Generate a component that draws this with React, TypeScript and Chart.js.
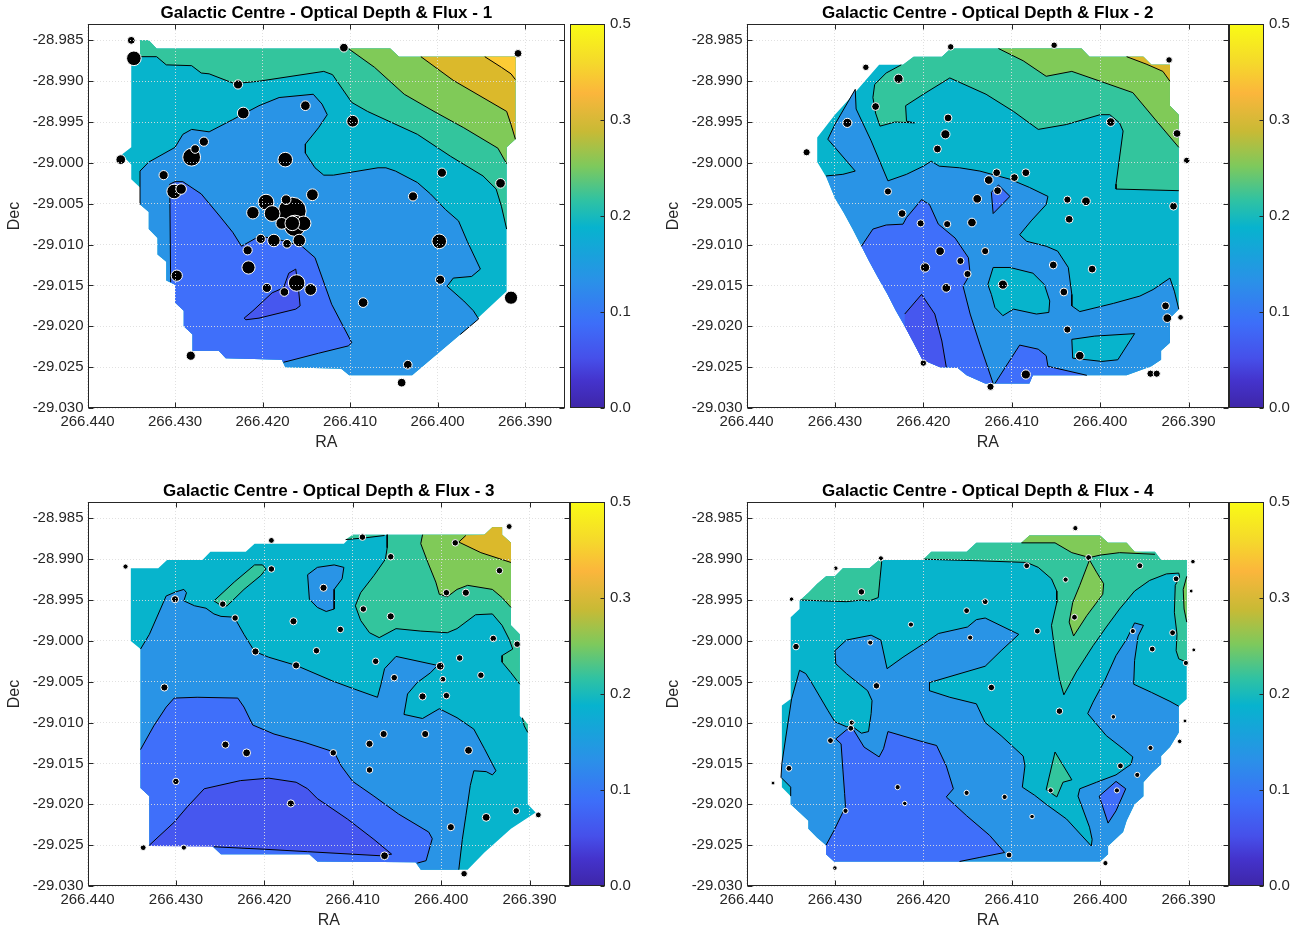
import React, { useEffect, useRef } from 'react';
import { Chart, registerables } from 'chart.js';

Chart.register(...registerables);
Chart.defaults.font.family = '"Liberation Sans", Arial, Helvetica, sans-serif';

type Pt = [number, number];
type Src = [number, number, number];

// ---------- axes ----------
const raTicks = [266.44, 266.43, 266.42, 266.41, 266.4, 266.39];
const decTicks = [-28.985, -28.99, -28.995, -29.0, -29.005, -29.01, -29.015, -29.02, -29.025, -29.03];
const cbTickLabels = ['0.0', '0.1', '0.2', '0.3', '0.5'];
const RA_MIN = 266.38542;
const RA_MAX = 266.44;
const DEC_MIN = -29.03;
const DEC_MAX = -28.983;
const titles = [
  'Galactic Centre - Optical Depth & Flux - 1',
  'Galactic Centre - Optical Depth & Flux - 2',
  'Galactic Centre - Optical Depth & Flux - 3',
  'Galactic Centre - Optical Depth & Flux - 4',
];

// ---------- colours ----------
const CYAN = '#07B4CC';
const BLUE = '#2994E6';
const ROYAL = '#3F6FFA';
const PURPLE = '#4657EF';
const TEAL = '#33C59D';
const GREEN = '#80CA58';
const GOLD = '#DBB92B';
const YELLOW = '#FDCB35';
const GRID = 'rgba(222,222,222,0.9)';
const AXIS = '#262626';
const parulaStops: [number, string][] = [
  [0.0, '#3E26A8'], [0.07, '#4433CC'], [0.13, '#4650EA'], [0.22, '#3D6EF9'], [0.33, '#2A91E8'],
  [0.47, '#07B3CE'], [0.54, '#2FC2A3'], [0.63, '#7EC95C'], [0.72, '#C8BA35'], [0.82, '#FBB63C'],
  [0.9, '#F5D92B'], [1.0, '#F9FB15'],
];

// ---------- panel 1 ----------
const p1Outer: Pt[] = [[266.4340,-28.9850],[266.4330,-28.9850],[266.4321,-28.9860],[266.4054,-28.9860],[266.4044,-28.9870],[266.3911,-28.9870],[266.3911,-28.9971],[266.3921,-28.9981],[266.3921,-29.0157],[266.3974,-29.0210],[266.4029,-29.0260],[266.4101,-29.0260],[266.4110,-29.0252],[266.4174,-29.0250],[266.4178,-29.0241],[266.4242,-29.0239],[266.4250,-29.0230],[266.4280,-29.0230],[266.4280,-29.0210],[266.4290,-29.0200],[266.4290,-29.0181],[266.4300,-29.0171],[266.4300,-29.0149],[266.4310,-29.0144],[266.4310,-29.0121],[266.4320,-29.0112],[266.4320,-29.0092],[266.4330,-29.0081],[266.4330,-29.0060],[266.4340,-29.0051],[266.4340,-29.0030],[266.4350,-29.0020],[266.4350,-29.0002],[266.4361,-28.9990],[266.4350,-28.9981],[266.4350,-28.9870],[266.4340,-28.9870]];
const p1TealLine: Pt[] = [[266.4350,-28.9870],[266.4321,-28.9870],[266.4310,-28.9880],[266.4281,-28.9881],[266.4270,-28.9890],[266.4261,-28.9891],[266.4232,-28.9903],[266.4204,-28.9900],[266.4130,-28.9888],[266.4120,-28.9892],[266.4098,-28.9926],[266.4080,-28.9937],[266.4023,-28.9965],[266.3985,-28.9992],[266.3948,-29.0016],[266.3933,-29.0032],[266.3927,-29.0053],[266.3921,-29.0081]];
const p1TealClose: Pt[] = [[266.3921,-28.9981],[266.3911,-28.9971],[266.3911,-28.9870],[266.4044,-28.9870],[266.4054,-28.9860],[266.4321,-28.9860],[266.4330,-28.9850],[266.4340,-28.9850],[266.4340,-28.9870]];
const p1GreenLine: Pt[] = [[266.4102,-28.9860],[266.4072,-28.9883],[266.4038,-28.9916],[266.4004,-28.9937],[266.3970,-28.9957],[266.3931,-28.9982],[266.3921,-29.0001]];
const p1GreenClose: Pt[] = [[266.3921,-28.9981],[266.3911,-28.9971],[266.3911,-28.9870],[266.4044,-28.9870],[266.4054,-28.9860]];
const p1GoldLine: Pt[] = [[266.4019,-28.9870],[266.3982,-28.9899],[266.3921,-28.9937],[266.3916,-28.9953],[266.3911,-28.9971]];
const p1GoldClose: Pt[] = [[266.3911,-28.9870]];
const p1YellowLine: Pt[] = [[266.3946,-28.9870],[266.3927,-28.9883],[266.3916,-28.9891],[266.3911,-28.9898]];
const p1YellowClose: Pt[] = [[266.3911,-28.9870]];
const p1BlueLine: Pt[] = [[266.4340,-29.0051],[266.4340,-29.0010],[266.4330,-28.9999],[266.4300,-28.9981],[266.4291,-28.9965],[266.4281,-28.9959],[266.4261,-28.9962],[266.4234,-28.9947],[266.4204,-28.9930],[266.4181,-28.9920],[266.4142,-28.9916],[266.4132,-28.9928],[266.4126,-28.9941],[266.4136,-28.9957],[266.4151,-28.9977],[266.4151,-28.9988],[266.4140,-29.0006],[266.4130,-29.0015],[266.4119,-29.0015],[266.4068,-29.0006],[266.4059,-29.0006],[266.4048,-29.0010],[266.4023,-29.0024],[266.4008,-29.0038],[266.3991,-29.0057],[266.3976,-29.0071],[266.3966,-29.0096],[266.3951,-29.0130],[266.3961,-29.0139],[266.3982,-29.0141],[266.3989,-29.0151],[266.3970,-29.0169],[266.3959,-29.0181],[266.3953,-29.0191],[266.3974,-29.0210]];
const p1BlueClose: Pt[] = [[266.4029,-29.0260],[266.4101,-29.0260],[266.4110,-29.0252],[266.4174,-29.0250],[266.4178,-29.0241],[266.4242,-29.0239],[266.4250,-29.0230],[266.4280,-29.0230],[266.4280,-29.0210],[266.4290,-29.0200],[266.4290,-29.0181],[266.4300,-29.0171],[266.4300,-29.0149],[266.4310,-29.0144],[266.4310,-29.0121],[266.4320,-29.0112],[266.4320,-29.0092],[266.4330,-29.0081],[266.4330,-29.0060]];
const p1RoyalLine: Pt[] = [[266.4305,-29.0146],[266.4306,-29.0026],[266.4300,-29.0023],[266.4291,-29.0023],[266.4270,-29.0038],[266.4249,-29.0065],[266.4234,-29.0085],[266.4224,-29.0102],[266.4204,-29.0090],[266.4189,-29.0092],[266.4174,-29.0096],[266.4155,-29.0102],[266.4140,-29.0116],[266.4121,-29.0173],[266.4098,-29.0220],[266.4102,-29.0224],[266.4136,-29.0233],[266.4172,-29.0243],[266.4176,-29.0244]];
const p1RoyalClose: Pt[] = [[266.4178,-29.0241],[266.4242,-29.0239],[266.4250,-29.0230],[266.4280,-29.0230],[266.4280,-29.0210],[266.4290,-29.0200],[266.4290,-29.0181],[266.4300,-29.0171],[266.4300,-29.0149]];
const p1PurpleLoop: Pt[] = [[266.4221,-29.0190],[266.4211,-29.0181],[266.4189,-29.0159],[266.4176,-29.0153],[266.4170,-29.0135],[266.4162,-29.0130],[266.4159,-29.0153],[266.4157,-29.0175],[266.4162,-29.0179],[266.4204,-29.0190],[266.4219,-29.0192],[266.4221,-29.0190]];
// [RA, Dec, flux]
const p1Sources: Src[] = [[266.4166,-29.0059,177],[266.4163,-29.0077,100],[266.4350,-28.9850,11],[266.4347,-28.9872,45],[266.4362,-28.9996,18],[266.4313,-29.0015,16],[266.4301,-29.0035,45],[266.4293,-29.0032,22],[266.4281,-28.9993,69],[266.4277,-28.9983,14],[266.4267,-28.9974,16],[266.4228,-28.9904,16],[266.4222,-28.9939,28],[266.4151,-28.9930,18],[266.4107,-28.9859,14],[266.4097,-28.9949,28],[266.4174,-28.9996,45],[266.4143,-29.0039,28],[266.4211,-29.0061,32],[266.4196,-29.0048,53],[266.4189,-29.0062,53],[266.4173,-29.0045,18],[266.4178,-29.0074,28],[266.4153,-29.0074,45],[266.4166,-29.0074,45],[266.4187,-29.0095,32],[266.4172,-29.0099,14],[266.4158,-29.0095,32],[266.4202,-29.0093,16],[266.4217,-29.0107,16],[266.4216,-29.0128,36],[266.4298,-29.0138,25],[266.4195,-29.0153,16],[266.4175,-29.0158,14],[266.4161,-29.0147,59],[266.4145,-29.0155,28],[266.4282,-29.0236,16],[266.4085,-29.0171,18],[266.4034,-29.0247,14],[266.4041,-29.0269,14],[266.3998,-29.0096,45],[266.3997,-29.0143,16],[266.4028,-29.0041,16],[266.3995,-29.0012,16],[266.3928,-29.0025,18],[266.3916,-29.0165,36],[266.3908,-28.9866,11]];

// ---------- panel 2 ----------
const p2Outer: Pt[] = [[266.4250,-28.9880],[266.4223,-28.9880],[266.4211,-28.9870],[266.4179,-28.9870],[266.4169,-28.9860],[266.4021,-28.9860],[266.4012,-28.9870],[266.3951,-28.9870],[266.3942,-28.9880],[266.3921,-28.9880],[266.3921,-28.9930],[266.3911,-28.9941],[266.3911,-29.0179],[266.3921,-29.0190],[266.3921,-29.0220],[266.3931,-29.0230],[266.3931,-29.0241],[266.3942,-29.0249],[266.3970,-29.0260],[266.4076,-29.0260],[266.4080,-29.0270],[266.4130,-29.0270],[266.4151,-29.0260],[266.4161,-29.0251],[266.4181,-29.0250],[266.4201,-29.0241],[266.4211,-29.0220],[266.4221,-29.0200],[266.4231,-29.0181],[266.4241,-29.0160],[266.4251,-29.0141],[266.4261,-29.0121],[266.4270,-29.0102],[266.4280,-29.0081],[266.4290,-29.0061],[266.4300,-29.0043],[266.4310,-29.0017],[266.4320,-28.9999],[266.4320,-28.9969],[266.4300,-28.9941],[266.4279,-28.9916]];
const p2TopClose: Pt[] = [[266.3911,-28.9941],[266.3921,-28.9930],[266.3921,-28.9880],[266.3942,-28.9880],[266.3951,-28.9870],[266.4012,-28.9870],[266.4021,-28.9860]];
const p2TealLine: Pt[] = [[266.4225,-28.9880],[266.4242,-28.9890],[266.4255,-28.9904],[266.4257,-28.9920],[266.4254,-28.9939],[266.4249,-28.9955],[266.4232,-28.9950],[266.4210,-28.9951],[266.4219,-28.9949],[266.4220,-28.9930],[266.4200,-28.9916],[266.4170,-28.9896],[266.4129,-28.9916],[266.4098,-28.9937],[266.4070,-28.9959],[266.4038,-28.9953],[266.4000,-28.9941],[266.3989,-28.9941],[266.3978,-28.9951],[266.3974,-28.9961],[266.3982,-29.0026],[266.3982,-29.0032],[266.3911,-29.0034]];
const p2TealClose: Pt[] = [...p2TopClose, [266.4169,-28.9860],[266.4179,-28.9870],[266.4211,-28.9870],[266.4223,-28.9880]];
const p2GreenLine: Pt[] = [[266.4115,-28.9860],[266.4087,-28.9875],[266.4061,-28.9894],[266.4032,-28.9888],[266.4000,-28.9900],[266.3963,-28.9914],[266.3936,-28.9949],[266.3911,-28.9981]];
const p2GoldLine: Pt[] = [[266.3970,-28.9870],[266.3948,-28.9879],[266.3929,-28.9888],[266.3921,-28.9900]];
const p2GoldClose: Pt[] = [[266.3921,-28.9880],[266.3942,-28.9880],[266.3951,-28.9870]];
const p2BlueLine: Pt[] = [[266.4310,-29.0016],[266.4291,-29.0014],[266.4277,-29.0010],[266.4308,-28.9971],[266.4300,-28.9953],[266.4277,-28.9910],[266.4276,-28.9934],[266.4259,-28.9973],[266.4240,-29.0022],[266.4219,-29.0014],[266.4200,-29.0004],[266.4191,-28.9998],[266.4182,-29.0004],[266.4159,-29.0006],[266.4136,-29.0010],[266.4102,-29.0020],[266.4080,-29.0030],[266.4059,-29.0041],[266.4061,-29.0051],[266.4078,-29.0071],[266.4091,-29.0088],[266.4083,-29.0096],[266.4061,-29.0102],[266.4048,-29.0108],[266.4036,-29.0128],[266.4032,-29.0161],[266.4032,-29.0175],[266.4023,-29.0182],[266.3985,-29.0172],[266.3955,-29.0163],[266.3940,-29.0155],[266.3921,-29.0141],[266.3916,-29.0157],[266.3911,-29.0179]];
const p2BlueClose: Pt[] = [[266.3921,-29.0190],[266.3921,-29.0220],[266.3931,-29.0230],[266.3931,-29.0241],[266.3942,-29.0249],[266.3970,-29.0260],[266.4076,-29.0260],[266.4080,-29.0270],[266.4130,-29.0270],[266.4151,-29.0260],[266.4161,-29.0251],[266.4181,-29.0250],[266.4201,-29.0241],[266.4211,-29.0220],[266.4221,-29.0200],[266.4231,-29.0181],[266.4241,-29.0160],[266.4251,-29.0141],[266.4261,-29.0121],[266.4270,-29.0102],[266.4280,-29.0081],[266.4290,-29.0061],[266.4300,-29.0043]];
const p2RoyalLineA: Pt[] = [[266.4270,-29.0102],[266.4257,-29.0081],[266.4242,-29.0076],[266.4223,-29.0075],[266.4219,-29.0067],[266.4202,-29.0045],[266.4193,-29.0051],[266.4183,-29.0075],[266.4164,-29.0092],[266.4149,-29.0116],[266.4147,-29.0136],[266.4155,-29.0151],[266.4147,-29.0185],[266.4136,-29.0222],[266.4121,-29.0270]];
const p2RoyalCloseA: Pt[] = [[266.4130,-29.0270],[266.4151,-29.0260],[266.4161,-29.0251],[266.4181,-29.0250],[266.4201,-29.0241],[266.4211,-29.0220],[266.4221,-29.0200],[266.4231,-29.0181],[266.4241,-29.0160],[266.4251,-29.0141],[266.4261,-29.0121]];
const p2RoyalLineB: Pt[] = [[266.4119,-29.0270],[266.4091,-29.0223],[266.4070,-29.0228],[266.4061,-29.0236],[266.4059,-29.0249],[266.4015,-29.0260]];
const p2RoyalCloseB: Pt[] = [[266.4076,-29.0260],[266.4080,-29.0270]];
const p2RoyalIsland: Pt[] = [[266.4123,-29.0036],[266.4115,-29.0027],[266.4102,-29.0041],[266.4121,-29.0062],[266.4123,-29.0036]];
const p2PurpleLine: Pt[] = [[266.4221,-29.0185],[266.4202,-29.0161],[266.4187,-29.0185],[266.4179,-29.0218],[266.4174,-29.0250]];
const p2PurpleClose: Pt[] = [[266.4181,-29.0250],[266.4201,-29.0241],[266.4211,-29.0220],[266.4221,-29.0200]];
const p2CyanIslandA: Pt[] = [[266.4127,-29.0149],[266.4121,-29.0128],[266.4102,-29.0128],[266.4076,-29.0135],[266.4063,-29.0149],[266.4057,-29.0169],[266.4058,-29.0183],[266.4072,-29.0185],[266.4098,-29.0179],[266.4110,-29.0187],[266.4119,-29.0177],[266.4123,-29.0161],[266.4127,-29.0149]];
const p2CyanIslandB: Pt[] = [[266.4032,-29.0216],[266.4006,-29.0212],[266.3961,-29.0209],[266.3980,-29.0241],[266.3998,-29.0243],[266.4031,-29.0239],[266.4032,-29.0216]];
const p2Sources: Src[] = [[266.4169,-28.9858,7],[266.4052,-28.9856,7],[266.4265,-28.9883,7],[266.4228,-28.9897,16],[266.4254,-28.9931,11],[266.4286,-28.9951,16],[266.4332,-28.9987,9],[266.4172,-28.9945,11],[266.4175,-28.9965,16],[266.4184,-28.9983,11],[266.3988,-28.9950,14],[266.3922,-28.9874,7],[266.3913,-28.9964,11],[266.3902,-28.9997,7],[266.4117,-29.0012,11],[266.4084,-29.0012,11],[266.4126,-29.0021,14],[266.4097,-29.0018,11],[266.4116,-29.0034,11],[266.4139,-29.0044,14],[266.4037,-29.0045,9],[266.4016,-29.0047,14],[266.4035,-29.0069,11],[266.3917,-29.0053,11],[266.4240,-29.0035,9],[266.4224,-29.0062,11],[266.4203,-29.0074,9],[266.4173,-29.0075,9],[266.4145,-29.0073,14],[266.4130,-29.0108,9],[266.4181,-29.0108,14],[266.4158,-29.0120,9],[266.4150,-29.0136,9],[266.4198,-29.0128,16],[266.4174,-29.0153,14],[266.4110,-29.0149,16],[266.4053,-29.0125,11],[266.4009,-29.0130,11],[266.4041,-29.0158,11],[266.3926,-29.0175,11],[266.3924,-29.0190,14],[266.3909,-29.0189,5],[266.4037,-29.0204,9],[266.4023,-29.0236,14],[266.4084,-29.0259,16],[266.4124,-29.0274,9],[266.4200,-29.0245,7],[266.3943,-29.0258,9],[266.3936,-29.0258,9]];

// ---------- panel 3 ----------
const p3Outer: Pt[] = [[266.4351,-28.9911],[266.4320,-28.9911],[266.4310,-28.9901],[266.4270,-28.9901],[266.4261,-28.9891],[266.4221,-28.9891],[266.4211,-28.9881],[266.4110,-28.9881],[266.4100,-28.9870],[266.3951,-28.9870],[266.3942,-28.9861],[266.3931,-28.9861],[266.3931,-28.9870],[266.3921,-28.9880],[266.3921,-28.9981],[266.3911,-28.9992],[266.3911,-29.0092],[266.3902,-29.0102],[266.3902,-29.0200],[266.3893,-29.0210],[266.3921,-29.0230],[266.3951,-29.0259],[266.3970,-29.0280],[266.4023,-29.0280],[266.4029,-29.0271],[266.4140,-29.0270],[266.4149,-29.0261],[266.4249,-29.0261],[266.4259,-29.0251],[266.4330,-29.0251],[266.4330,-29.0190],[266.4340,-29.0180],[266.4340,-29.0010],[266.4351,-29.0000]];
const p3BlueLine: Pt[] = [[266.4340,-29.0010],[266.4330,-28.9992],[266.4311,-28.9945],[266.4300,-28.9940],[266.4291,-28.9937],[266.4288,-28.9941],[266.4291,-28.9951],[266.4279,-28.9957],[266.4266,-28.9960],[266.4257,-28.9967],[266.4249,-28.9970],[266.4234,-28.9971],[266.4223,-28.9992],[266.4211,-29.0013],[266.4195,-29.0020],[266.4164,-29.0030],[266.4123,-29.0049],[266.4098,-29.0059],[266.4072,-29.0069],[266.4068,-29.0053],[266.4064,-29.0034],[266.4051,-29.0019],[266.4004,-29.0030],[266.4012,-29.0039],[266.4027,-29.0051],[266.4038,-29.0065],[266.4042,-29.0090],[266.4021,-29.0095],[266.4002,-29.0083],[266.3982,-29.0094],[266.3963,-29.0108],[266.3951,-29.0132],[266.3938,-29.0159],[266.3942,-29.0164],[266.3949,-29.0160],[266.3963,-29.0159],[266.3967,-29.0177],[266.3972,-29.0214],[266.3976,-29.0243],[266.3980,-29.0280]];
const p3BlueClose: Pt[] = [[266.4023,-29.0280],[266.4029,-29.0271],[266.4140,-29.0270],[266.4149,-29.0261],[266.4249,-29.0261],[266.4259,-29.0251],[266.4330,-29.0251],[266.4330,-29.0190],[266.4340,-29.0180]];
const p3BlueIsland: Pt[] = [[266.4151,-28.9919],[266.4140,-28.9910],[266.4121,-28.9907],[266.4110,-28.9910],[266.4112,-28.9924],[266.4121,-28.9937],[266.4121,-28.9961],[266.4130,-28.9964],[266.4140,-28.9959],[266.4149,-28.9949],[266.4151,-28.9919]];
const p3TealLine: Pt[] = [[266.4061,-28.9870],[266.4061,-28.9886],[266.4063,-28.9900],[266.4076,-28.9920],[266.4091,-28.9941],[266.4097,-28.9957],[266.4091,-28.9975],[266.4081,-28.9990],[266.4070,-28.9996],[266.4051,-28.9985],[266.4023,-28.9988],[266.3993,-28.9990],[266.3982,-28.9985],[266.3961,-28.9968],[266.3942,-28.9967],[266.3931,-28.9981],[266.3923,-28.9998],[266.3919,-29.0010],[266.3931,-29.0018],[266.3931,-29.0026],[266.3921,-29.0039],[266.3911,-29.0053]];
const p3TopRightClose: Pt[] = [[266.3921,-28.9880],[266.3931,-28.9870],[266.3931,-28.9861],[266.3942,-28.9861],[266.3951,-28.9870]];
const p3TealClose: Pt[] = [[266.3911,-28.9992],[266.3921,-28.9981], ...p3TopRightClose];
const p3TealRightLine: Pt[] = [[266.3908,-29.0094],[266.3906,-29.0104],[266.3902,-29.0112]];
const p3TealRightClose: Pt[] = [[266.3902,-29.0102]];
const p3TealIsland: Pt[] = [[266.4257,-28.9951],[266.4234,-28.9928],[266.4211,-28.9907],[266.4202,-28.9907],[266.4198,-28.9912],[266.4204,-28.9920],[266.4223,-28.9937],[266.4242,-28.9957],[266.4247,-28.9958],[266.4257,-28.9951]];
const p3TealTopLine: Pt[] = [[266.4108,-28.9876],[266.4087,-28.9874],[266.4064,-28.9871]];
const p3TealTopClose: Pt[] = [[266.4064,-28.9870],[266.4100,-28.9870]];
const p3GreenLine: Pt[] = [[266.4021,-28.9870],[266.4023,-28.9881],[266.4015,-28.9904],[266.4006,-28.9928],[266.4002,-28.9943],[266.3993,-28.9946],[266.3982,-28.9937],[266.3970,-28.9932],[266.3942,-28.9937],[266.3931,-28.9947],[266.3921,-28.9959]];
const p3GoldLine: Pt[] = [[266.3972,-28.9871],[266.3980,-28.9879],[266.3955,-28.9892],[266.3921,-28.9904]];
const p3RoyalLine: Pt[] = [[266.4340,-29.0133],[266.4325,-29.0104],[266.4311,-29.0081],[266.4302,-29.0070],[266.4276,-29.0069],[266.4230,-29.0070],[266.4223,-29.0081],[266.4213,-29.0103],[266.4189,-29.0114],[266.4155,-29.0124],[266.4121,-29.0136],[266.4113,-29.0153],[266.4100,-29.0172],[266.4076,-29.0190],[266.4048,-29.0212],[266.4014,-29.0234],[266.4010,-29.0242],[266.4017,-29.0269],[266.4027,-29.0272]];
const p3RoyalClose: Pt[] = [[266.4029,-29.0271],[266.4140,-29.0270],[266.4149,-29.0261],[266.4249,-29.0261],[266.4259,-29.0251],[266.4330,-29.0251],[266.4330,-29.0190],[266.4340,-29.0180]];
const p3PurpleLine: Pt[] = [[266.4330,-29.0250],[266.4302,-29.0222],[266.4287,-29.0203],[266.4268,-29.0181],[266.4227,-29.0171],[266.4195,-29.0168],[266.4164,-29.0173],[266.4151,-29.0181],[266.4140,-29.0193],[266.4106,-29.0218],[266.4076,-29.0243],[266.4056,-29.0261],[266.4068,-29.0263],[266.4151,-29.0258],[266.4200,-29.0255],[266.4257,-29.0252]];
const p3PurpleClose: Pt[] = [[266.4330,-29.0251]];
const p3Sources: Src[] = [[266.3923,-28.9860,5.4],[266.4192,-28.9877,5.4],[266.4357,-28.9909,4],[266.4089,-28.9873,7.1],[266.3984,-28.9880,7.1],[266.4057,-28.9897,7.1],[266.4192,-28.9912,7.1],[266.3934,-28.9914,7.1],[266.3994,-28.9941,7.1],[266.3972,-28.9941,9],[266.4301,-28.9949,9],[266.4247,-28.9955,7.1],[266.4133,-28.9935,9],[266.4233,-28.9972,7.1],[266.4088,-28.9961,7.1],[266.4057,-28.9970,9],[266.4167,-28.9976,9],[266.4114,-28.9986,7.1],[266.3941,-28.9997,7.1],[266.3914,-29.0004,7.1],[266.4210,-29.0013,9],[266.4141,-29.0012,7.1],[266.4164,-29.0030,9],[266.4074,-29.0025,7.1],[266.3979,-29.0021,7.1],[266.4001,-29.0031,11.1],[266.4053,-29.0045,7.1],[266.3998,-29.0047,5.4],[266.3955,-29.0042,7.1],[266.4313,-29.0057,9],[266.4021,-29.0068,9],[266.3994,-29.0067,7.1],[266.4065,-29.0114,9],[266.4018,-29.0114,9],[266.4081,-29.0126,9],[266.4244,-29.0127,9],[266.4220,-29.0137,11.1],[266.4122,-29.0137,7.1],[266.3969,-29.0134,11.1],[266.4081,-29.0158,7.1],[266.4300,-29.0172,7.1],[266.4170,-29.0199,9],[266.3915,-29.0208,7.1],[266.3890,-29.0213,5.4],[266.3949,-29.0216,11.1],[266.3989,-29.0228,9],[266.4337,-29.0253,5.4],[266.4291,-29.0253,4],[266.4064,-29.0263,11.1],[266.3974,-29.0285,7.1]];

// ---------- panel 4 ----------
const p4Outer: Pt[] = [[266.4080,-28.9871],[266.4000,-28.9871],[266.3991,-28.9880],[266.3970,-28.9880],[266.3961,-28.9891],[266.3938,-28.9891],[266.3931,-28.9901],[266.3902,-28.9901],[266.3902,-29.0071],[266.3911,-29.0080],[266.3911,-29.0112],[266.3921,-29.0130],[266.3931,-29.0141],[266.3931,-29.0151],[266.3941,-29.0161],[266.3951,-29.0173],[266.3951,-29.0190],[266.3961,-29.0200],[266.3970,-29.0220],[266.3974,-29.0234],[266.3991,-29.0251],[266.3991,-29.0261],[266.4000,-29.0270],[266.4301,-29.0270],[266.4310,-29.0261],[266.4310,-29.0250],[266.4320,-29.0241],[266.4330,-29.0230],[266.4330,-29.0220],[266.4350,-29.0200],[266.4350,-29.0190],[266.4360,-29.0179],[266.4360,-29.0079],[266.4350,-29.0071],[266.4350,-28.9971],[266.4340,-28.9961],[266.4340,-28.9951],[266.4330,-28.9941],[266.4320,-28.9930],[266.4310,-28.9921],[266.4300,-28.9921],[266.4291,-28.9911],[266.4261,-28.9911],[266.4250,-28.9901],[266.4200,-28.9901],[266.4191,-28.9891],[266.4151,-28.9891],[266.4140,-28.9880],[266.4089,-28.9880]];
const p4TealALine: Pt[] = [[266.4339,-28.9950],[266.4313,-28.9951],[266.4287,-28.9952],[266.4270,-28.9950],[266.4261,-28.9951],[266.4251,-28.9947],[266.4249,-28.9924],[266.4247,-28.9902]];
const p4TealAClose: Pt[] = [[266.4250,-28.9901],[266.4261,-28.9911],[266.4291,-28.9911],[266.4300,-28.9921],[266.4310,-28.9921],[266.4320,-28.9930],[266.4330,-28.9941],[266.4340,-28.9951]];
const p4TealBLine: Pt[] = [[266.4200,-28.9900],[266.4136,-28.9902],[266.4083,-28.9904],[266.4070,-28.9910],[266.4055,-28.9924],[266.4049,-28.9939],[266.4049,-28.9953],[266.4055,-28.9981],[266.4051,-29.0014],[266.4046,-29.0047],[266.4041,-29.0066],[266.4027,-29.0038],[266.4008,-29.0006],[266.3993,-28.9983],[266.3978,-28.9961],[266.3961,-28.9939],[266.3944,-28.9926],[266.3925,-28.9918],[266.3911,-28.9917],[266.3910,-28.9922],[266.3915,-28.9932],[266.3916,-28.9965],[266.3913,-28.9992],[266.3914,-29.0012],[266.3911,-29.0022],[266.3902,-29.0026]];
const p4TealBClose: Pt[] = [[266.3902,-28.9901],[266.3931,-28.9901],[266.3938,-28.9891],[266.3961,-28.9891],[266.3970,-28.9880],[266.3991,-28.9880],[266.4000,-28.9871],[266.4080,-28.9871],[266.4089,-28.9880],[266.4140,-28.9880],[266.4151,-28.9891],[266.4191,-28.9891]];
const p4GreenALine: Pt[] = [[266.4089,-28.9880],[266.4051,-28.9880],[266.4032,-28.9892],[266.4012,-28.9898],[266.4000,-28.9895],[266.3978,-28.9892],[266.3938,-28.9894]];
const p4GreenAClose: Pt[] = [[266.3961,-28.9891],[266.3970,-28.9880],[266.3991,-28.9880],[266.4000,-28.9871],[266.4080,-28.9871]];
const p4GreenIsland: Pt[] = [[266.4012,-28.9901],[266.4004,-28.9916],[266.3996,-28.9930],[266.3997,-28.9943],[266.4015,-28.9969],[266.4030,-28.9994],[266.4035,-28.9977],[266.4031,-28.9953],[266.4023,-28.9932],[266.4012,-28.9901]];
const p4GreenEdgeLine: Pt[] = [[266.3902,-28.9921],[266.3906,-28.9937],[266.3905,-28.9961],[266.3902,-28.9977]];
const p4BlueLine: Pt[] = [[266.4350,-29.0190],[266.4350,-29.0179],[266.4361,-29.0167],[266.4360,-29.0150],[266.4349,-29.0071],[266.4340,-29.0036],[266.4333,-29.0040],[266.4327,-29.0050],[266.4308,-29.0085],[266.4300,-29.0099],[266.4287,-29.0105],[266.4280,-29.0105],[266.4270,-29.0113],[266.4262,-29.0111],[266.4259,-29.0089],[266.4258,-29.0073],[266.4263,-29.0061],[266.4287,-29.0040],[266.4299,-29.0028],[266.4300,-29.0012],[266.4287,-28.9999],[266.4259,-28.9993],[266.4248,-28.9999],[266.4241,-29.0034],[266.4223,-29.0020],[266.4199,-29.0003],[266.4183,-28.9991],[266.4150,-28.9983],[266.4140,-28.9974],[266.4130,-28.9972],[266.4092,-28.9992],[266.4112,-29.0012],[266.4130,-29.0031],[266.4193,-29.0051],[266.4193,-29.0061],[266.4170,-29.0069],[266.4140,-29.0077],[266.4130,-29.0100],[266.4112,-29.0116],[266.4087,-29.0141],[266.4085,-29.0153],[266.4088,-29.0179],[266.4074,-29.0189],[266.4061,-29.0200],[266.4038,-29.0218],[266.4010,-29.0251],[266.4009,-29.0243],[266.4012,-29.0228],[266.4025,-29.0190],[266.4023,-29.0181],[266.4004,-29.0173],[266.3982,-29.0164],[266.3965,-29.0151],[266.3963,-29.0142],[266.3974,-29.0132],[266.3993,-29.0116],[266.4014,-29.0089],[266.4008,-29.0075],[266.3995,-29.0049],[266.3982,-29.0018],[266.3970,-28.9998],[266.3961,-28.9978],[266.3951,-28.9981],[266.3957,-28.9994],[266.3961,-29.0024],[266.3962,-29.0053],[266.3942,-29.0063],[266.3921,-29.0074],[266.3911,-29.0080]];
const p4BlueClose: Pt[] = [[266.3911,-29.0112],[266.3921,-29.0130],[266.3931,-29.0141],[266.3931,-29.0151],[266.3941,-29.0161],[266.3951,-29.0173],[266.3951,-29.0190],[266.3961,-29.0200],[266.3970,-29.0220],[266.3974,-29.0234],[266.3991,-29.0251],[266.3991,-29.0261],[266.4000,-29.0270],[266.4301,-29.0270],[266.4310,-29.0261],[266.4310,-29.0250],[266.4320,-29.0241],[266.4330,-29.0230],[266.4330,-29.0220],[266.4350,-29.0200]];
const p4RoyalLine: Pt[] = [[266.4310,-29.0250],[266.4301,-29.0232],[266.4288,-29.0203],[266.4289,-29.0187],[266.4291,-29.0157],[266.4293,-29.0126],[266.4299,-29.0120],[266.4287,-29.0109],[266.4280,-29.0107],[266.4267,-29.0130],[266.4250,-29.0142],[266.4245,-29.0132],[266.4240,-29.0111],[266.4199,-29.0124],[266.4185,-29.0128],[266.4174,-29.0153],[266.4166,-29.0181],[266.4174,-29.0191],[266.4151,-29.0214],[266.4125,-29.0238],[266.4108,-29.0259],[266.4136,-29.0265],[266.4159,-29.0270]];
const p4RoyalClose: Pt[] = [[266.4301,-29.0270],[266.4310,-29.0261]];
const p4RoyalIsland: Pt[] = [[266.4001,-29.0190],[266.3982,-29.0172],[266.3971,-29.0181],[266.3982,-29.0208],[266.3991,-29.0223],[266.4001,-29.0190]];
const p4TealIsland: Pt[] = [[266.4051,-29.0136],[266.4032,-29.0170],[266.4042,-29.0173],[266.4049,-29.0191],[266.4061,-29.0182],[266.4051,-29.0136]];
const p4Sources: Src[] = [[266.4028,-28.9862,4],[266.4248,-28.9899,4],[266.4299,-28.9911,2.8],[266.4349,-28.9949,2.8],[266.4270,-28.9940,7.1],[266.4083,-28.9908,5.4],[266.4013,-28.9898,5.4],[266.3955,-28.9908,5.4],[266.4039,-28.9925,4],[266.3914,-28.9924,5.4],[266.3895,-28.9903,2.8],[266.3897,-28.9939,1.8],[266.4130,-28.9952,5.4],[266.4151,-28.9963,5.4],[266.4214,-28.9980,4],[266.4071,-28.9988,5.4],[266.4029,-28.9971,5.4],[266.3963,-28.9988,4],[266.3918,-28.9990,5.4],[266.3894,-29.0011,1.8],[266.3941,-29.0010,5.4],[266.3903,-29.0027,4],[266.4344,-29.0007,7.1],[266.4260,-29.0002,4],[266.4147,-28.9996,4],[266.4253,-29.0055,7.1],[266.4123,-29.0057,7.1],[266.4046,-29.0086,7.1],[266.3985,-29.0093,2.8],[266.3904,-29.0098,1.8],[266.4281,-29.0100,4],[266.4282,-29.0107,5.4],[266.4305,-29.0122,5.4],[266.3910,-29.0123,2.8],[266.3943,-29.0131,4],[266.4352,-29.0156,5.4],[266.3977,-29.0153,5.4],[266.3958,-29.0164,4],[266.4370,-29.0174,1.8],[266.4229,-29.0179,4],[266.4151,-29.0186,4],[266.4108,-29.0191,4],[266.4056,-29.0183,4],[266.3981,-29.0183,4],[266.4288,-29.0208,4],[266.4221,-29.0199,2.8],[266.4077,-29.0215,2.8],[266.4103,-29.0262,5.4],[266.3994,-29.0272,4],[266.4300,-29.0278,2.8]];

// ---------- panel specs ----------
type Region = { color: string; line: Pt[]; close: Pt[] };
type PanelSpec = { title: string; regions: Region[]; sources: Src[] };
const R = (color: string, line: Pt[], close: Pt[] = []): Region => ({ color, line, close });

const panels: PanelSpec[] = [
  {
    title: titles[0],
    regions: [
      R(CYAN, [], p1Outer),
      R(TEAL, p1TealLine, p1TealClose),
      R(GREEN, p1GreenLine, p1GreenClose),
      R(GOLD, p1GoldLine, p1GoldClose),
      R(YELLOW, p1YellowLine, p1YellowClose),
      R(BLUE, p1BlueLine, p1BlueClose),
      R(ROYAL, p1RoyalLine, p1RoyalClose),
      R(PURPLE, p1PurpleLoop),
    ],
    sources: p1Sources,
  },
  {
    title: titles[1],
    regions: [
      R(CYAN, [], p2Outer),
      R(TEAL, p2TealLine, p2TealClose),
      R(GREEN, p2GreenLine, p2TopClose),
      R(GOLD, p2GoldLine, p2GoldClose),
      R(BLUE, p2BlueLine, p2BlueClose),
      R(ROYAL, p2RoyalLineA, p2RoyalCloseA),
      R(ROYAL, p2RoyalLineB, p2RoyalCloseB),
      R(ROYAL, p2RoyalIsland),
      R(PURPLE, p2PurpleLine, p2PurpleClose),
      R(CYAN, p2CyanIslandA),
      R(CYAN, p2CyanIslandB),
    ],
    sources: p2Sources,
  },
  {
    title: titles[2],
    regions: [
      R(CYAN, [], p3Outer),
      R(BLUE, p3BlueLine, p3BlueClose),
      R(BLUE, p3BlueIsland),
      R(TEAL, p3TealLine, p3TealClose),
      R(TEAL, p3TealRightLine, p3TealRightClose),
      R(TEAL, p3TealIsland),
      R(TEAL, p3TealTopLine, p3TealTopClose),
      R(GREEN, p3GreenLine, p3TopRightClose),
      R(GOLD, p3GoldLine, p3TopRightClose),
      R(ROYAL, p3RoyalLine, p3RoyalClose),
      R(PURPLE, p3PurpleLine, p3PurpleClose),
    ],
    sources: p3Sources,
  },
  {
    title: titles[3],
    regions: [
      R(CYAN, [], p4Outer),
      R(TEAL, p4TealALine, p4TealAClose),
      R(TEAL, p4TealBLine, p4TealBClose),
      R(GREEN, p4GreenALine, p4GreenAClose),
      R(GREEN, p4GreenIsland),
      R(GREEN, p4GreenEdgeLine),
      R(BLUE, p4BlueLine, p4BlueClose),
      R(ROYAL, p4RoyalLine, p4RoyalClose),
      R(ROYAL, p4RoyalIsland),
      R(TEAL, p4TealIsland),
    ],
    sources: p4Sources,
  },
];

// ---------- plugins ----------
const boxPlugin = {
  id: 'axesBox',
  afterDraw(chart: any) {
    const { ctx, chartArea: a, scales } = chart;
    ctx.save();
    ctx.strokeStyle = AXIS;
    ctx.lineWidth = 1;
    const L = Math.round(a.left) + 0.5, T = Math.round(a.top) + 0.5;
    const Rr = Math.round(a.right) - 0.5, B = Math.round(a.bottom) - 0.5;
    ctx.strokeRect(L, T, Rr - L, B - T);
    ctx.beginPath();
    for (const t of scales.x.ticks) {
      const px = Math.round(scales.x.getPixelForValue(t.value)) + 0.5;
      ctx.moveTo(px, B); ctx.lineTo(px, B - 5);
      ctx.moveTo(px, T); ctx.lineTo(px, T + 5);
    }
    for (const t of scales.y.ticks) {
      const py = Math.round(scales.y.getPixelForValue(t.value)) + 0.5;
      ctx.moveTo(L, py); ctx.lineTo(L + 5, py);
      ctx.moveTo(Rr, py); ctx.lineTo(Rr - 5, py);
    }
    ctx.stroke();
    ctx.restore();
  },
};

const cbBoxPlugin = {
  id: 'cbBox',
  afterDraw(chart: any) {
    const { ctx, chartArea: a, scales } = chart;
    ctx.save();
    ctx.strokeStyle = AXIS;
    ctx.lineWidth = 1;
    const L = Math.round(a.left) + 0.5, T = Math.round(a.top) + 0.5;
    const Rr = Math.round(a.right) - 0.5, B = Math.round(a.bottom) - 0.5;
    ctx.strokeRect(L, T, Rr - L, B - T);
    ctx.beginPath();
    for (const t of scales.y.ticks) {
      const py = Math.round(scales.y.getPixelForValue(t.value)) + 0.5;
      ctx.moveTo(Rr, py); ctx.lineTo(Rr - 4, py);
    }
    ctx.stroke();
    ctx.restore();
  },
};

const tickFont = { size: 15 };
const markerRadius = (flux: number) => Math.sqrt(flux) + 0.6;

function ContourPanel({ spec, left, top }: { spec: PanelSpec; left: number; top: number }) {
  const mainRef = useRef<HTMLCanvasElement>(null);
  const cbRef = useRef<HTMLCanvasElement>(null);

  useEffect(() => {
    const toXY = (arr: Pt[]) => arr.map(([x, y]) => ({ x, y }));
    const fills: any[] = spec.regions.map((r) => ({
      data: toXY([...r.line, ...r.close]),
      fill: 'shape',
      backgroundColor: r.color,
      borderWidth: 0,
      pointRadius: 0,
      pointHoverRadius: 0,
      tension: 0,
    }));
    const strokes: any[] = spec.regions
      .filter((r) => r.line.length > 1)
      .map((r) => ({
        data: toXY(r.line),
        fill: false,
        borderColor: '#000000',
        borderWidth: 1,
        pointRadius: 0,
        pointHoverRadius: 0,
        tension: 0,
      }));
    const sources: any = {
      data: spec.sources.map(([x, y]) => ({ x, y })),
      showLine: false,
      fill: false,
      pointRadius: spec.sources.map((s) => markerRadius(s[2])),
      pointHoverRadius: spec.sources.map((s) => markerRadius(s[2])),
      pointBackgroundColor: '#000000',
      pointBorderColor: '#ffffff',
      pointBorderWidth: 1,
    };
    const all = [...fills, ...strokes, sources];
    const datasets = all.map((d, i) => ({ ...d, order: all.length - i }));

    const chart = new Chart(mainRef.current as HTMLCanvasElement, {
      type: 'line',
      data: { datasets },
      options: {
        responsive: false,
        animation: false,
        devicePixelRatio: 1,
        events: [],
        layout: { padding: { left: 0, right: 10, top: 0, bottom: 0 } },
        plugins: {
          legend: { display: false },
          tooltip: { enabled: false },
          title: {
            display: true,
            text: spec.title,
            fullSize: false,
            color: '#000000',
            font: { size: 17, weight: 'bold' },
            padding: { top: 3.3, bottom: 0.3 },
          },
        },
        scales: {
          x: {
            type: 'linear',
            reverse: true,
            min: RA_MIN,
            max: RA_MAX,
            afterBuildTicks: (s: any) => { s.ticks = raTicks.map((value) => ({ value })); },
            afterFit: (s: any) => { s.height = 58; },
            ticks: { autoSkip: false, maxRotation: 0, color: AXIS, font: tickFont, padding: 5, callback: (v: any) => Number(v).toFixed(3) },
            grid: { color: GRID, z: 1, drawTicks: false, lineWidth: 1 },
            border: { display: false, dash: [1, 2] },
            title: { display: true, text: 'RA', color: AXIS, font: { size: 16 }, padding: { top: 0, bottom: 13.6 } },
          },
          y: {
            type: 'linear',
            min: DEC_MIN,
            max: DEC_MAX,
            afterBuildTicks: (s: any) => { s.ticks = decTicks.map((value) => ({ value })); },
            afterFit: (s: any) => { s.width = 87.5; },
            ticks: { autoSkip: false, color: AXIS, font: tickFont, padding: 4, callback: (v: any) => Number(v).toFixed(3) },
            grid: { color: GRID, z: 1, drawTicks: false, lineWidth: 1 },
            border: { display: false, dash: [1, 2] },
            title: { display: true, text: 'Dec', color: AXIS, font: { size: 16 }, padding: { top: 4.8, bottom: 0 } },
          },
        },
      } as any,
      plugins: [boxPlugin],
    });

    const cb = new Chart(cbRef.current as HTMLCanvasElement, {
      type: 'bar',
      data: {
        labels: [''],
        datasets: [
          {
            data: [cbTickLabels.length - 1],
            borderWidth: 0,
            barPercentage: 1,
            categoryPercentage: 1,
            backgroundColor: (c: any) => {
              const area = c.chart.chartArea;
              if (!area) return '#2994E6';
              const g = c.chart.ctx.createLinearGradient(0, area.bottom, 0, area.top);
              parulaStops.forEach(([p, col]) => g.addColorStop(p, col));
              return g;
            },
          },
        ],
      },
      options: {
        responsive: false,
        animation: false,
        devicePixelRatio: 1,
        events: [],
        layout: { padding: { left: 10, right: 0, top: 24, bottom: 58 } },
        plugins: { legend: { display: false }, tooltip: { enabled: false }, title: { display: false } },
        scales: {
          x: { display: false },
          y: {
            position: 'right',
            min: 0,
            max: cbTickLabels.length - 1,
            afterBuildTicks: (s: any) => { s.ticks = cbTickLabels.map((_, i) => ({ value: i })); },
            afterFit: (s: any) => { s.width = 35; },
            ticks: { color: AXIS, font: tickFont, padding: 5, callback: (v: any) => cbTickLabels[Number(v)] },
            grid: { display: false, drawTicks: false },
            border: { display: false },
          },
        },
      } as any,
      plugins: [cbBoxPlugin],
    });

    return () => {
      chart.destroy();
      cb.destroy();
    };
  }, [spec]);

  return (
    <>
      <canvas ref={mainRef} width={580} height={466} style={{ position: 'absolute', left, top, width: 580, height: 466 }} />
      <canvas ref={cbRef} width={80} height={466} style={{ position: 'absolute', left: left + 560, top, width: 80, height: 466 }} />
    </>
  );
}

export default function App() {
  return (
    <div style={{ position: 'fixed', left: 0, top: 0, width: 1302, height: 932, background: '#ffffff' }}>
      {panels.map((p, i) => (
        <ContourPanel key={i} spec={p} left={(i % 2) * 659} top={Math.floor(i / 2) * 478} />
      ))}
    </div>
  );
}
